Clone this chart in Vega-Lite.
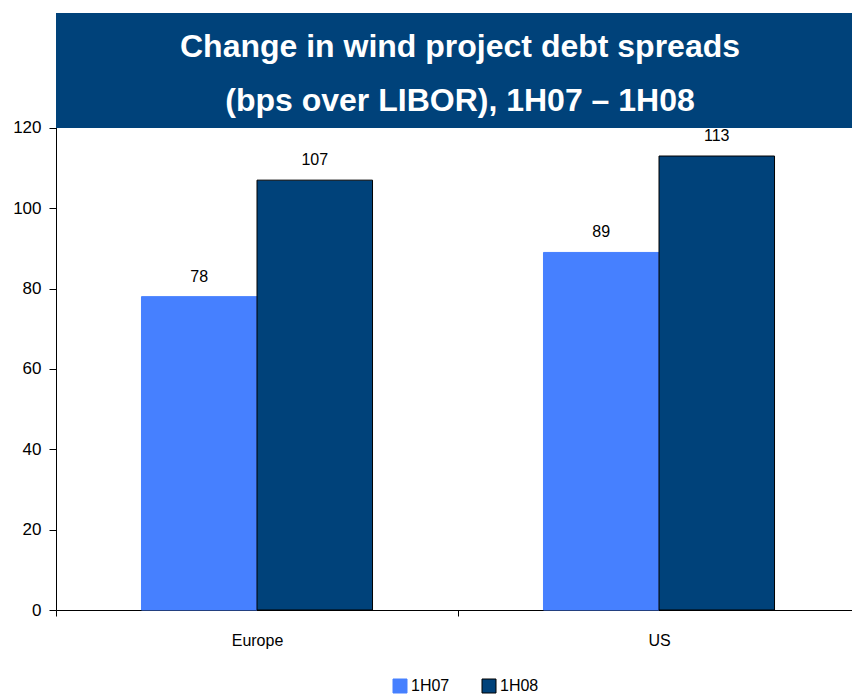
{
  "$schema": "https://vega.github.io/schema/vega-lite/v6.json",
  "width": 796,
  "height": 597,
  "autosize": "none",
  "padding": {"left": 56, "top": 13, "right": 0, "bottom": 86},
  "background": "white",
  "config": {"font": "Liberation Sans", "view": {"stroke": null}},
  "title": {
    "text": ["Change in wind project debt spreads", "(bps over LIBOR), 1H07 – 1H08"],
    "fontSize": 32,
    "fontWeight": "bold",
    "color": "white",
    "font": "Liberation Sans",
    "lineHeight": 54,
    "anchor": "middle",
    "frame": "group",
    "offset": -105,
    "dx": 6
  },
  "layer": [
    {
      "data": {"values": [{"band": "banner"}]},
      "mark": {"type": "rect", "color": "#00427A"},
      "encoding": {
        "y": {"datum": 120, "type": "quantitative"},
        "y2": {"datum": 148.6}
      }
    },
    {
      "data": {"values": [
        {"region": "Europe", "series": "1H07", "value": 78},
        {"region": "Europe", "series": "1H08", "value": 107},
        {"region": "US", "series": "1H07", "value": 89},
        {"region": "US", "series": "1H08", "value": 113}
      ]},
      "layer": [
        {
          "mark": {"type": "bar", "strokeWidth": 1},
          "encoding": {
            "x": {
              "field": "region", "type": "nominal",
              "scale": {"paddingInner": 0, "paddingOuter": 0, "range": [0, 804]},
              "axis": {
                "title": null, "labelAngle": 0, "labelFontSize": 16, "labelColor": "black",
                "tickBand": "extent", "tickSize": 6, "tickColor": "black",
                "domainColor": "black", "labelPadding": 16, "grid": false
              }
            },
            "xOffset": {"field": "series", "type": "nominal", "scale": {"paddingInner": 0, "paddingOuter": 0.74}},
            "y": {
              "field": "value", "type": "quantitative",
              "scale": {"domain": [0, 148.6], "nice": false, "zero": true},
              "axis": {
                "title": null, "values": [0, 20, 40, 60, 80, 100, 120],
                "labelFontSize": 17, "labelColor": "black", "tickSize": 7, "tickColor": "black",
                "gridColor": "black", "gridOpacity": 0.85, "domainColor": "black", "labelPadding": 8
              }
            },
            "fill": {
              "field": "series", "type": "nominal",
              "scale": {"domain": ["1H07", "1H08"], "range": ["#4680FF", "#00427A"]},
              "legend": {
                "title": null, "orient": "none", "legendX": 336, "legendY": 665,
                "direction": "horizontal", "symbolType": "square", "symbolSize": 196,
                "labelFontSize": 16, "labelColor": "black", "columnPadding": 30,
                "labelOffset": 3, "padding": 0, "symbolStrokeWidth": 1
              }
            },
            "stroke": {
              "field": "series", "type": "nominal",
              "scale": {"domain": ["1H07", "1H08"], "range": ["#4680FF", "#000000"]}
            }
          }
        },
        {
          "mark": {"type": "text", "baseline": "alphabetic", "dy": -15, "fontSize": 16, "color": "black"},
          "encoding": {
            "x": {"field": "region", "type": "nominal"},
            "xOffset": {"field": "series", "type": "nominal"},
            "y": {"field": "value", "type": "quantitative"},
            "text": {"field": "value", "type": "quantitative"}
          }
        }
      ]
    }
  ]
}
